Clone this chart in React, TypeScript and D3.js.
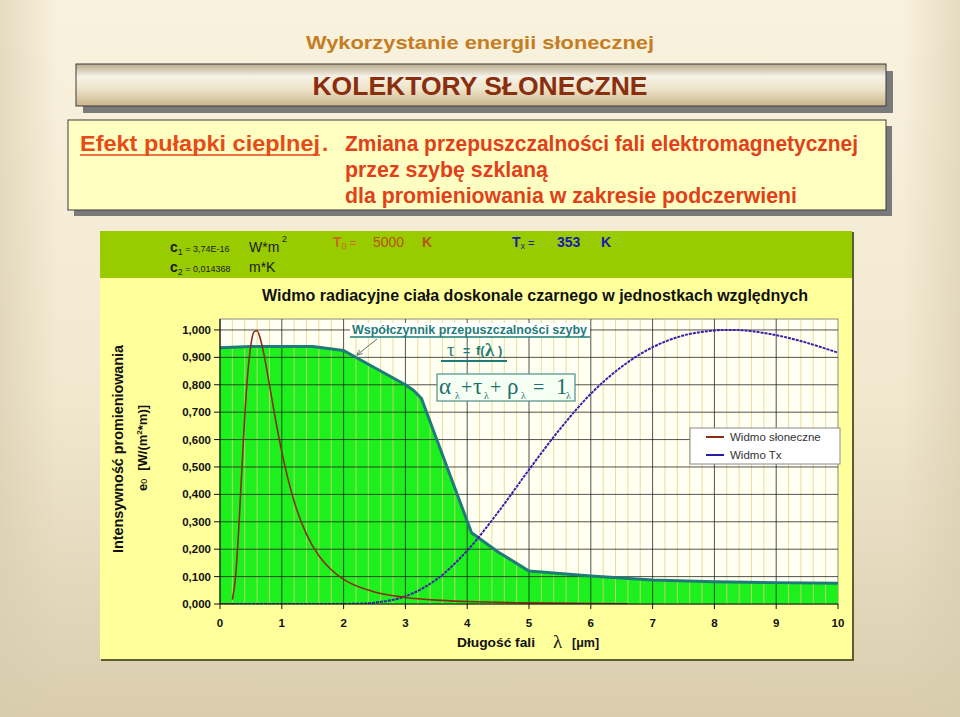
import React from "react";
import * as d3 from "d3";

// ---------- data ----------
const sunLambda = [0.2, 0.25, 0.3, 0.35, 0.4, 0.45, 0.5, 0.55, 0.6, 0.65, 0.7, 0.8, 0.9, 1.0, 1.2, 1.4, 1.6, 1.8, 2.0, 2.5, 3.0, 3.5, 4.0, 5.0, 6.0, 6.6];
const sunValues = [0.016, 0.096, 0.261, 0.476, 0.683, 0.844, 0.946, 0.993, 0.997, 0.97, 0.923, 0.8, 0.671, 0.555, 0.374, 0.254, 0.176, 0.125, 0.09, 0.044, 0.024, 0.014, 0.009, 0.004, 0.002, 0.001];

const txLambda = [0, 0.5, 1, 1.5, 2, 2.5, 3, 3.5, 4, 4.5, 5, 5.5, 6, 6.5, 7, 7.5, 8, 8.25, 8.5, 9, 9.5, 10];
const txValues = [0, 0, 0, 0, 0, 0.005, 0.028, 0.089, 0.195, 0.335, 0.49, 0.638, 0.767, 0.866, 0.937, 0.98, 0.998, 1.0, 0.998, 0.981, 0.953, 0.917];

const tauLambda = [0, 0.5, 1, 1.5, 2, 3.0, 3.13, 3.26, 4.07, 4.5, 5, 6, 7, 8, 9, 10];
const tauValues = [0.935, 0.94, 0.94, 0.94, 0.925, 0.8, 0.78, 0.75, 0.26, 0.19, 0.12, 0.102, 0.088, 0.081, 0.078, 0.076];

const xTicks = [0, 1, 2, 3, 4, 5, 6, 7, 8, 9, 10];
const yTicks = [0, 0.1, 0.2, 0.3, 0.4, 0.5, 0.6, 0.7, 0.8, 0.9, 1.0];
const yTickLabels = ["0,000", "0,100", "0,200", "0,300", "0,400", "0,500", "0,600", "0,700", "0,800", "0,900", "1,000"];
const legendLabels = ["Widmo słoneczne", "Widmo Tx"];

const SANS = "'Liberation Sans', Arial, sans-serif";
const SERIF = "'Liberation Serif', 'Times New Roman', serif";

export default function App() {
  const x = d3.scaleLinear().domain([0, 10]).range([220, 838]);
  const y = d3.scaleLinear().domain([0, 1.04]).range([604, 319]);

  const sun = sunLambda.map((l, i) => [l, sunValues[i]] as [number, number]);
  const tx = txLambda.map((l, i) => [l, txValues[i]] as [number, number]);
  const tau = tauLambda.map((l, i) => [l, tauValues[i]] as [number, number]);

  const smooth = d3.line<[number, number]>().x(d => x(d[0])).y(d => y(d[1])).curve(d3.curveMonotoneX);
  const smoothCR = d3.line<[number, number]>().x(d => x(d[0])).y(d => y(d[1])).curve(d3.curveCatmullRom);
  const lin = d3.line<[number, number]>().x(d => x(d[0])).y(d => y(d[1]));
  const tauArea = d3.area<[number, number]>().x(d => x(d[0])).y0(y(0)).y1(d => y(d[1]));

  const minor = d3.range(0, 10.001, 0.2).filter(v => Math.abs(v - Math.round(v)) > 1e-6);
  const teal = "#1f7b78";

  return (
    <svg width={960} height={717} style={{ position: "absolute", left: 0, top: 0 }} fontFamily={SANS}>
      <defs>
        <linearGradient id="bg" x1="0" y1="0" x2="0" y2="1">
          <stop offset="0" stopColor="#f9f2de" />
          <stop offset="0.55" stopColor="#f1e8d0" />
          <stop offset="1" stopColor="#dacdae" />
        </linearGradient>
        <linearGradient id="bgSide" x1="0" y1="0" x2="1" y2="0">
          <stop offset="0" stopColor="#d8ccae" stopOpacity="0.6" />
          <stop offset="0.06" stopColor="#d8ccae" stopOpacity="0" />
          <stop offset="0.94" stopColor="#d8ccae" stopOpacity="0" />
          <stop offset="1" stopColor="#d8ccae" stopOpacity="0.6" />
        </linearGradient>
        <linearGradient id="banner" x1="0" y1="0" x2="0" y2="1">
          <stop offset="0" stopColor="#b9ab8c" />
          <stop offset="0.3" stopColor="#f6f2e6" />
          <stop offset="0.6" stopColor="#eee4c8" />
          <stop offset="1" stopColor="#c9b48c" />
        </linearGradient>
        <marker id="arr" viewBox="0 0 10 10" refX="9" refY="5" markerWidth="6" markerHeight="6" orient="auto">
          <path d="M0,1 L10,5 L0,9" fill="none" stroke="#607070" strokeWidth="1.5" />
        </marker>
        <clipPath id="plotClip">
          <rect x={x(0)} y={y(1.04)} width={x(10) - x(0)} height={y(0) - y(1.04)} />
        </clipPath>
      </defs>

      {/* page background */}
      <rect x={0} y={0} width={960} height={717} fill="url(#bg)" />
      <rect x={0} y={0} width={960} height={717} fill="url(#bgSide)" />

      {/* header */}
      <text x={480} y={49} textAnchor="middle" fontSize={19} fontWeight="bold" fill="#c47d22" textLength={348} lengthAdjust="spacingAndGlyphs">
        Wykorzystanie energii słonecznej
      </text>

      <rect x={83} y={71} width={810} height={42} fill="#7a7a7a" />
      <rect x={76} y={64} width={810} height={42} fill="url(#banner)" stroke="#3a3a3a" strokeWidth={1} />
      <text x={480} y={95} textAnchor="middle" fontSize={25} fontWeight="bold" fill="#8a2e10" textLength={335} lengthAdjust="spacingAndGlyphs">
        KOLEKTORY SŁONECZNE
      </text>

      <rect x={74} y={126} width={818} height={90} fill="#7a7a7a" />
      <rect x={68} y={120} width={818} height={90} fill="#ffffc2" stroke="#3a3a3a" strokeWidth={1} />
      <g fontWeight="bold">
        <text x={80} y={151} fontSize={22.5} fill="#e84a18" textLength={240} lengthAdjust="spacingAndGlyphs">Efekt pułapki cieplnej</text>
        <line x1={80} y1={155} x2={320} y2={155} stroke="#e84a18" strokeWidth={1.5} />
        <text x={322} y={151} fontSize={22.5} fill="#e84a18">.</text>
        <text x={345} y={151} fontSize={22.5} fill="#e0401a" textLength={513} lengthAdjust="spacingAndGlyphs">Zmiana przepuszczalności fali elektromagnetycznej</text>
        <text x={345} y={177} fontSize={22.5} fill="#e0401a" textLength={203} lengthAdjust="spacingAndGlyphs">przez szybę szklaną</text>
        <text x={345} y={203} fontSize={22.5} fill="#e0401a" textLength={452} lengthAdjust="spacingAndGlyphs">dla promieniowania w zakresie podczerwieni</text>
      </g>

      {/* chart panel */}
      <rect x={101} y={232} width={753} height={429} fill="#5d5b30" />
      <rect x={100} y={231} width={752} height={428} fill="#ffff9c" />
      <rect x={100} y={231} width={752} height={47} fill="#99cc00" />

      {/* constants band */}
      <text x={170} y={252} fontSize={14} fontWeight="bold" fill="#1a1a1a">c<tspan fontSize={9} dy={3} fontWeight="normal">1</tspan><tspan fontSize={9} dy={-3} fontWeight="normal"> = </tspan><tspan fontSize={9} fontWeight="normal">3,74E-16</tspan></text>
      <text x={249} y={252} fontSize={14} fill="#1a1a1a">W*m</text>
      <text x={282} y={242} fontSize={9} fill="#1a1a1a">2</text>
      <text x={170} y={272} fontSize={14} fontWeight="bold" fill="#1a1a1a">c<tspan fontSize={9} dy={3} fontWeight="normal">2</tspan><tspan fontSize={9} dy={-3} fontWeight="normal"> = </tspan><tspan fontSize={9} fontWeight="normal">0,014368</tspan></text>
      <text x={249} y={272} fontSize={14} fill="#1a1a1a">m*K</text>

      <g fontWeight="bold">
        <text x={333} y={247} fontSize={14} fill="#c86a20">T<tspan fontSize={9} dy={2} fontWeight="normal">0</tspan><tspan dy={-2} fontSize={11} fontWeight="normal"> =</tspan></text>
        <text x={373} y={247} fontSize={14} fill="#b85416" fontWeight="normal">5000</text>
        <text x={422} y={247} fontSize={14} fill="#b85416">K</text>
        <text x={512} y={247} fontSize={14} fill="#1a1ab0">T<tspan fontSize={9} dy={2} fontWeight="normal">x</tspan><tspan dy={-2} fontSize={11} fontWeight="normal"> =</tspan></text>
        <text x={557} y={247} fontSize={14} fill="#1a1ab0">353</text>
        <text x={601} y={247} fontSize={14} fill="#1a1ab0">K</text>
      </g>

      {/* chart title */}
      <text x={262} y={301} fontSize={16} fontWeight="bold" fill="#111" textLength={546} lengthAdjust="spacingAndGlyphs">
        Widmo radiacyjne ciała doskonale czarnego w jednostkach względnych
      </text>

      {/* plot area */}
      <rect x={x(0)} y={y(1.04)} width={x(10) - x(0)} height={y(0) - y(1.04)} fill="#fffff2" stroke="#8a8a7a" strokeWidth={1} />
      <g clipPath="url(#plotClip)">
        <path d={tauArea(tau) || ""} fill="#1ef01e" />
        {minor.map(v => (
          <line key={"m" + v} x1={x(v)} x2={x(v)} y1={y(1.04)} y2={y(0)} stroke="#e3d27e" strokeOpacity={0.75} strokeWidth={1} />
        ))}
        {xTicks.slice(1, -1).map(v => (
          <line key={"vx" + v} x1={x(v)} x2={x(v)} y1={y(1.04)} y2={y(0)} stroke="#1a1a1a" strokeOpacity={0.75} strokeWidth={1} />
        ))}
        {yTicks.slice(1).map(v => (
          <line key={"hy" + v} x1={x(0)} x2={x(10)} y1={y(v)} y2={y(v)} stroke="#1a1a1a" strokeOpacity={0.75} strokeWidth={1} />
        ))}
        <path d={lin(tau) || ""} fill="none" stroke={teal} strokeWidth={3} strokeLinejoin="round" />
        <path d={smoothCR(tx) || ""} fill="none" stroke="#3a22a8" strokeWidth={2} strokeDasharray="3 1" />
        <line x1={x(0)} x2={x(0.2)} y1={y(0)} y2={y(0)} stroke="#8b2c14" strokeWidth={1.5} />
        <path d={smooth(sun) || ""} fill="none" stroke="#8b2c14" strokeWidth={1.6} />
      </g>

      {/* axes */}
      <line x1={x(0)} x2={x(0)} y1={y(1.04)} y2={y(0)} stroke="#111" strokeWidth={1.2} />
      <line x1={x(0)} x2={x(10)} y1={y(0)} y2={y(0)} stroke="#111" strokeWidth={1.2} />
      {yTicks.map((v, i) => (
        <g key={"yt" + v}>
          <line x1={x(0) - 6} x2={x(0)} y1={y(v)} y2={y(v)} stroke="#111" strokeWidth={1} />
          <text x={211} y={y(v) + 4} textAnchor="end" fontSize={11.5} fontWeight="bold" fill="#111">{yTickLabels[i]}</text>
        </g>
      ))}
      {xTicks.map(v => (
        <g key={"xt" + v}>
          <line x1={x(v)} x2={x(v)} y1={y(0)} y2={y(0) + 5} stroke="#111" strokeWidth={1} />
          <text x={x(v)} y={627} textAnchor="middle" fontSize={11.5} fontWeight="bold" fill="#111">{v}</text>
        </g>
      ))}

      {/* axis titles */}
      <text x={457} y={647} fontSize={12.5} fontWeight="bold" fill="#111" textLength={78} lengthAdjust="spacingAndGlyphs">Długość fali</text>
      <text x={553} y={648} fontSize={19} fontFamily={SERIF} fill="#111">λ</text>
      <text x={572} y={647} fontSize={12.5} fontWeight="bold" fill="#111">[μm]</text>

      <text transform="translate(123,449) rotate(-90)" textAnchor="middle" fontSize={14} fontWeight="bold" fill="#111" textLength={208} lengthAdjust="spacingAndGlyphs">
        Intensywność promieniowania
      </text>
      <text transform="translate(147,448) rotate(-90)" textAnchor="middle" fontSize={13} fontWeight="bold" fill="#111">
        e<tspan fontSize={9} fontWeight="normal">0</tspan>
        <tspan dx={8}>[W/(m</tspan><tspan fontSize={8} dy={-5}>2</tspan><tspan dy={5}>*m)]</tspan>
      </text>

      {/* annotations */}
      <rect x={350} y={323} width={240} height={14} fill="#ffffff" />
      <text x={352} y={334} fontSize={12.5} fontWeight="bold" fill={teal} textLength={235} lengthAdjust="spacingAndGlyphs">Współczynnik przepuszczalności szyby</text>
      <line x1={350} x2={590} y1={337} y2={337} stroke={teal} strokeWidth={1.5} />
      <line x1={377} y1={339} x2={357} y2={355} stroke="#607070" strokeWidth={1} markerEnd="url(#arr)" />

      <text x={447} y={356} fontSize={19} fontFamily={SERIF} fill={teal}>τ</text>
      <text x={463} y={355} fontSize={12} fontWeight="bold" fill={teal}>=</text>
      <text x={476} y={355} fontSize={13} fontWeight="bold" fill={teal}>f(</text>
      <text x={485} y={356} fontSize={19} fontFamily={SERIF} fontWeight="bold" fill={teal}>λ</text>
      <text x={498} y={355} fontSize={13} fontWeight="bold" fill={teal}>)</text>
      <line x1={441} x2={507} y1={361} y2={361} stroke={teal} strokeWidth={2} />

      <rect x={437} y={374} width={138} height={27} fill="#f6fff4" stroke="#4e8f8b" strokeWidth={1.2} />
      <g fontFamily={SERIF} fill="#236f6c">
        <text x={439} y={394} fontSize={23}>α</text>
        <text x={455} y={399} fontSize={10}>λ</text>
        <text x={461} y={394} fontSize={20}>+</text>
        <text x={473} y={394} fontSize={23}>τ</text>
        <text x={484} y={399} fontSize={10}>λ</text>
        <text x={490} y={394} fontSize={20}>+</text>
        <text x={507} y={394} fontSize={23}>ρ</text>
        <text x={521} y={399} fontSize={10}>λ</text>
        <text x={533} y={394} fontSize={20}>=</text>
        <text x={556} y={394} fontSize={23}>1</text>
        <text x={566} y={399} fontSize={10}>λ</text>
      </g>

      {/* legend */}
      <rect x={690} y={428} width={150} height={36} fill="#ffffff" stroke="#8a8a8a" strokeWidth={1} />
      <line x1={706} x2={724} y1={437} y2={437} stroke="#8b2c14" strokeWidth={2} />
      <text x={730} y={441} fontSize={11.5} fill="#333">{legendLabels[0]}</text>
      <line x1={706} x2={724} y1={455} y2={455} stroke="#2a1aa8" strokeWidth={2} />
      <text x={730} y={459} fontSize={11.5} fill="#333">{legendLabels[1]}</text>
    </svg>
  );
}
